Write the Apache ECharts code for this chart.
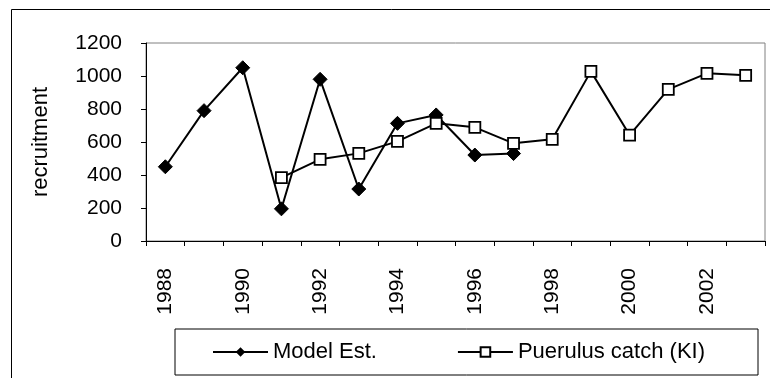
<!DOCTYPE html>
<html>
<head>
<meta charset="utf-8">
<script src="https://cdn.jsdelivr.net/npm/echarts@6/dist/echarts.min.js"></script>
<style>
html,body{margin:0;padding:0;background:#fff;}
#main{width:770px;height:378px;}
</style>
</head>
<body>
<div id="main"></div>
<script>
var years = ['1988','1989','1990','1991','1992','1993','1994','1995','1996','1997','1998','1999','2000','2001','2002','2003'];
var modelEst = [450, 790, 1050, 195, 980, 315, 713, 764, 521, 530, null, null, null, null, null, null];
var puerulusCatch = [null, null, null, 384, 495, 531, 604, 713, 689, 592, 616, 1028, 642, 919, 1016, 1004];
var yTicks = {min: 0, max: 1200, interval: 200};

var FONT = '"Liberation Sans", Arial, sans-serif';
var chart = echarts.init(document.getElementById('main'), null, {renderer: 'canvas'});
chart.setOption({
  animation: false,
  backgroundColor: '#fff',
  textStyle: {fontFamily: FONT},
  graphic: [{
    type: 'rect',
    shape: {x: 11.5, y: 9.5, width: 800, height: 400},
    style: {fill: 'none', stroke: '#000', lineWidth: 1},
    silent: true,
    z: -1
  }],
  grid: {
    left: 146, top: 43, right: 5, bottom: 137,
    show: true, borderColor: '#808080', borderWidth: 1, containLabel: false
  },
  legend: {
    left: 175, top: 329,
    padding: [12, 53, 12, 37],
    borderColor: '#000', borderWidth: 1,
    itemWidth: 55, itemHeight: 12, itemGap: 80,
    textStyle: {fontFamily: FONT, fontSize: 22, color: '#000'},
    data: ['Model Est.', 'Puerulus catch (KI)']
  },
  xAxis: {
    type: 'category',
    data: years,
    boundaryGap: true,
    axisLine: {lineStyle: {color: '#000', width: 1}},
    axisTick: {show: true, length: 5, interval: 0, alignWithLabel: false, lineStyle: {color: '#000'}},
    axisLabel: {interval: 1, rotate: 90, margin: 27, fontSize: 21, color: '#000', fontFamily: FONT},
    splitLine: {show: false}
  },
  yAxis: {
    type: 'value',
    min: yTicks.min, max: yTicks.max, interval: yTicks.interval,
    name: 'recruitment',
    nameLocation: 'middle',
    nameGap: 94,
    nameRotate: 90,
    nameTextStyle: {fontSize: 22, color: '#000', fontFamily: FONT},
    axisLine: {show: true, lineStyle: {color: '#000', width: 1}},
    axisTick: {show: true, length: 5, lineStyle: {color: '#000'}},
    axisLabel: {margin: 24, fontSize: 21, color: '#000', fontFamily: FONT,
      formatter: function (v) { return String(v); }},
    splitLine: {show: false}
  },
  series: [{
    name: 'Model Est.',
    type: 'line',
    data: modelEst,
    symbol: 'diamond',
    symbolSize: 14,
    connectNulls: false,
    lineStyle: {color: '#000', width: 2},
    itemStyle: {color: '#000', borderColor: '#000'},
    z: 2
  }, {
    name: 'Puerulus catch (KI)',
    type: 'line',
    data: puerulusCatch,
    symbol: 'rect',
    symbolSize: 11,
    connectNulls: false,
    lineStyle: {color: '#000', width: 2},
    itemStyle: {color: '#fff', borderColor: '#000', borderWidth: 1.8},
    z: 3
  }]
});
</script>
</body>
</html>
